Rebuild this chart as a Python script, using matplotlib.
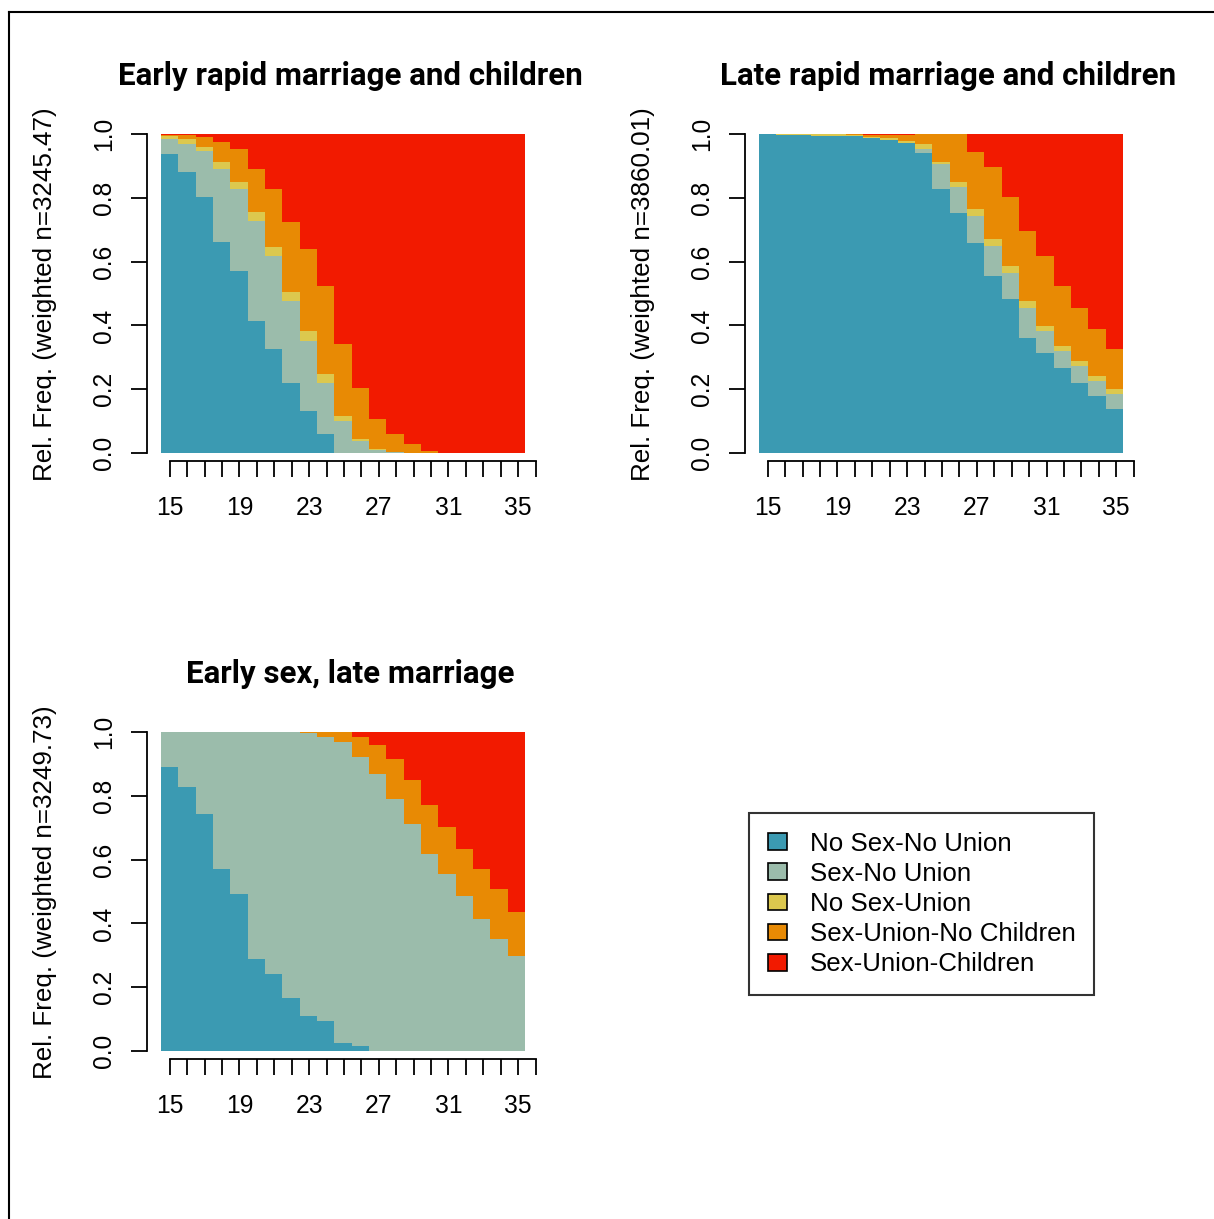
import numpy as np
import matplotlib
matplotlib.use("Agg")
import matplotlib.pyplot as plt
from matplotlib.patches import Patch
from matplotlib.lines import Line2D

ages = list(range(15, 36))
states = ["No Sex-No Union", "Sex-No Union", "No Sex-Union",
          "Sex-Union-No Children", "Sex-Union-Children"]
colors = ["#3B9AB2", "#9BBCAB", "#DCC84E", "#E88A04", "#F21A00"]

titles = ["Early rapid marriage and children",
          "Late rapid marriage and children",
          "Early sex, late marriage"]
weighted_n = ["3245.47", "3860.01", "3249.73"]

# cumulative tops (from bottom): teal, +sage, +yellow, +orange ; red fills to 1
c1_teal = [0.937, 0.882, 0.804, 0.662, 0.570, 0.413, 0.326, 0.218, 0.132, 0.061, 0.0,
           0.0, 0.0, 0.0, 0.0, 0.0, 0.0, 0.0, 0.0, 0.0, 0.0]
c1_sage = [0.983, 0.969, 0.947, 0.890, 0.827, 0.727, 0.617, 0.477, 0.350, 0.220, 0.100,
           0.038, 0.008, 0.002, 0.0, 0.0, 0.0, 0.0, 0.0, 0.0, 0.0]
c1_yell = [0.994, 0.983, 0.960, 0.913, 0.850, 0.756, 0.646, 0.505, 0.382, 0.247, 0.117,
           0.045, 0.014, 0.004, 0.001, 0.0, 0.0, 0.0, 0.0, 0.0, 0.0]
c1_oran = [0.998, 0.998, 0.990, 0.975, 0.952, 0.890, 0.827, 0.725, 0.639, 0.524, 0.342,
           0.204, 0.108, 0.061, 0.029, 0.005, 0.0, 0.0, 0.0, 0.0, 0.0]

c2_teal = [1.000, 0.996, 0.996, 0.995, 0.994, 0.994, 0.986, 0.981, 0.971, 0.939, 0.829,
           0.751, 0.657, 0.555, 0.484, 0.359, 0.312, 0.265, 0.218, 0.179, 0.139]
c2_sage = [1.000, 0.996, 0.996, 0.995, 0.994, 0.994, 0.986, 0.981, 0.971, 0.952, 0.905,
           0.835, 0.743, 0.649, 0.563, 0.453, 0.383, 0.320, 0.273, 0.226, 0.186]
c2_yell = [1.000, 1.000, 1.000, 1.000, 0.999, 0.997, 0.991, 0.986, 0.979, 0.969, 0.913,
           0.850, 0.765, 0.672, 0.586, 0.476, 0.397, 0.336, 0.289, 0.242, 0.202]
c2_oran = [1.000, 1.000, 1.000, 1.000, 1.000, 1.000, 0.998, 0.998, 0.998, 0.999, 1.000,
           1.000, 0.945, 0.897, 0.803, 0.696, 0.617, 0.523, 0.453, 0.390, 0.327]

c3_teal = [0.891, 0.829, 0.742, 0.571, 0.493, 0.288, 0.242, 0.165, 0.111, 0.094, 0.024,
           0.016, 0.0, 0.0, 0.0, 0.0, 0.0, 0.0, 0.0, 0.0, 0.0]
c3_sage = [1.000, 1.000, 1.000, 1.000, 1.000, 1.000, 1.000, 1.000, 0.996, 0.985, 0.970,
           0.921, 0.867, 0.789, 0.711, 0.618, 0.555, 0.486, 0.414, 0.351, 0.298]
c3_yell = c3_sage
c3_oran = [1.000, 1.000, 1.000, 1.000, 1.000, 1.000, 1.000, 1.000, 1.000, 1.000, 1.000,
           0.985, 0.959, 0.914, 0.850, 0.771, 0.703, 0.632, 0.569, 0.507, 0.437]

panels = [
    (c1_teal, c1_sage, c1_yell, c1_oran),
    (c2_teal, c2_sage, c2_yell, c2_oran),
    (c3_teal, c3_sage, c3_yell, c3_oran),
]

W, H = 1214, 1219
DPI = 100
fig = plt.figure(figsize=(W / DPI, H / DPI), dpi=DPI)

FONT = ["Liberation Sans", "DejaVu Sans"]
TFONT = ["Roboto", "Liberation Sans", "DejaVu Sans"]
fs = 17.7


def fx(px):
    return px / W


def fy(py):
    return 1 - py / H


# plot origins (pixel): left, top
origins = [(161, 134), (759, 134), (161, 732)]
pw, ph = 364, 319
n = len(ages)

for k, (tops, (ox, oy)) in enumerate(zip(panels, origins)):
    ax = fig.add_axes([fx(ox), fy(oy + ph), pw / W, ph / H])
    teal, sage, yell, oran = [np.array(t) for t in tops]
    ones = np.ones(n)
    cum = [teal, sage, yell, oran, ones]
    bottoms = [np.zeros(n), teal, sage, yell, oran]
    xpos = np.arange(n) + 0.5
    for i in range(5):
        ax.bar(xpos, cum[i] - bottoms[i], bottom=bottoms[i], width=1.0,
               color=colors[i], edgecolor="none", linewidth=0)
    ax.set_xlim(0, n)
    ax.set_ylim(0, 1)
    ax.axis("off")

    # x axis (R style: one extra tick beyond the last bar)
    axx = fig.add_axes([fx(ox), fy(oy + ph + 8), (pw * (n + 1) / n + 2) / W, 0.0001])
    axx.set_xlim(0, n + 1)
    tpos = np.arange(n + 1) + 0.5
    axx.set_xticks(tpos)
    labels = [str(a) if (a - 15) % 4 == 0 else "" for a in ages] + [""]
    axx.set_xticklabels(labels, fontsize=fs, family=FONT)
    axx.tick_params(axis="x", direction="out", length=11.5, width=1.3, pad=14,
                    color="black")
    axx.set_yticks([])
    for s in ["top", "left", "right"]:
        axx.spines[s].set_visible(False)
    axx.spines["bottom"].set_linewidth(1.3)
    axx.spines["bottom"].set_bounds(tpos[0], tpos[-1])
    axx.patch.set_alpha(0)

    # y axis
    axy = fig.add_axes([fx(ox - 14), fy(oy + ph), 0.0001, ph / H])
    axy.set_ylim(0, 1)
    yt = [0.0, 0.2, 0.4, 0.6, 0.8, 1.0]
    axy.set_yticks(yt)
    axy.set_yticklabels([f"{v:.1f}" for v in yt], fontsize=fs, family=FONT,
                        rotation=90, va="center")
    axy.tick_params(axis="y", direction="out", length=11.5, width=1.3, pad=11)
    axy.set_xticks([])
    for s in ["top", "bottom", "right"]:
        axy.spines[s].set_visible(False)
    axy.spines["left"].set_linewidth(1.3)
    axy.patch.set_alpha(0)

    fig.text(fx(ox - 116), fy(oy + ph / 2 + 1),
             f"Rel. Freq. (weighted n={weighted_n[k]})",
             rotation=90, ha="center", va="center", fontsize=18.7, family=FONT)
    fig.text(fx(ox + 189), fy(oy - 58), titles[k], ha="center", va="center",
             fontsize=22.5, fontweight="bold", family=TFONT)

# legend
handles = [Patch(facecolor=c, edgecolor="black", linewidth=1.2) for c in colors]
leg = fig.legend(handles, states, loc="upper left",
                 bbox_to_anchor=(fx(749), fy(813)), bbox_transform=fig.transFigure,
                 prop={"family": FONT, "size": 18.6}, frameon=True, fancybox=False,
                 edgecolor="black", borderpad=0.72, labelspacing=0.24,
                 handlelength=0.74, handleheight=0.62, handletextpad=0.9,
                 borderaxespad=0)
leg.get_frame().set_linewidth(1.5)

# partial outer frame (top and left)
fig.add_artist(Line2D([fx(9), 1], [fy(12), fy(12)], color="black", linewidth=1.5,
                      transform=fig.transFigure))
fig.add_artist(Line2D([fx(9), fx(9)], [fy(12), 0], color="black", linewidth=1.5,
                      transform=fig.transFigure))

fig.savefig("out.png", dpi=DPI)
